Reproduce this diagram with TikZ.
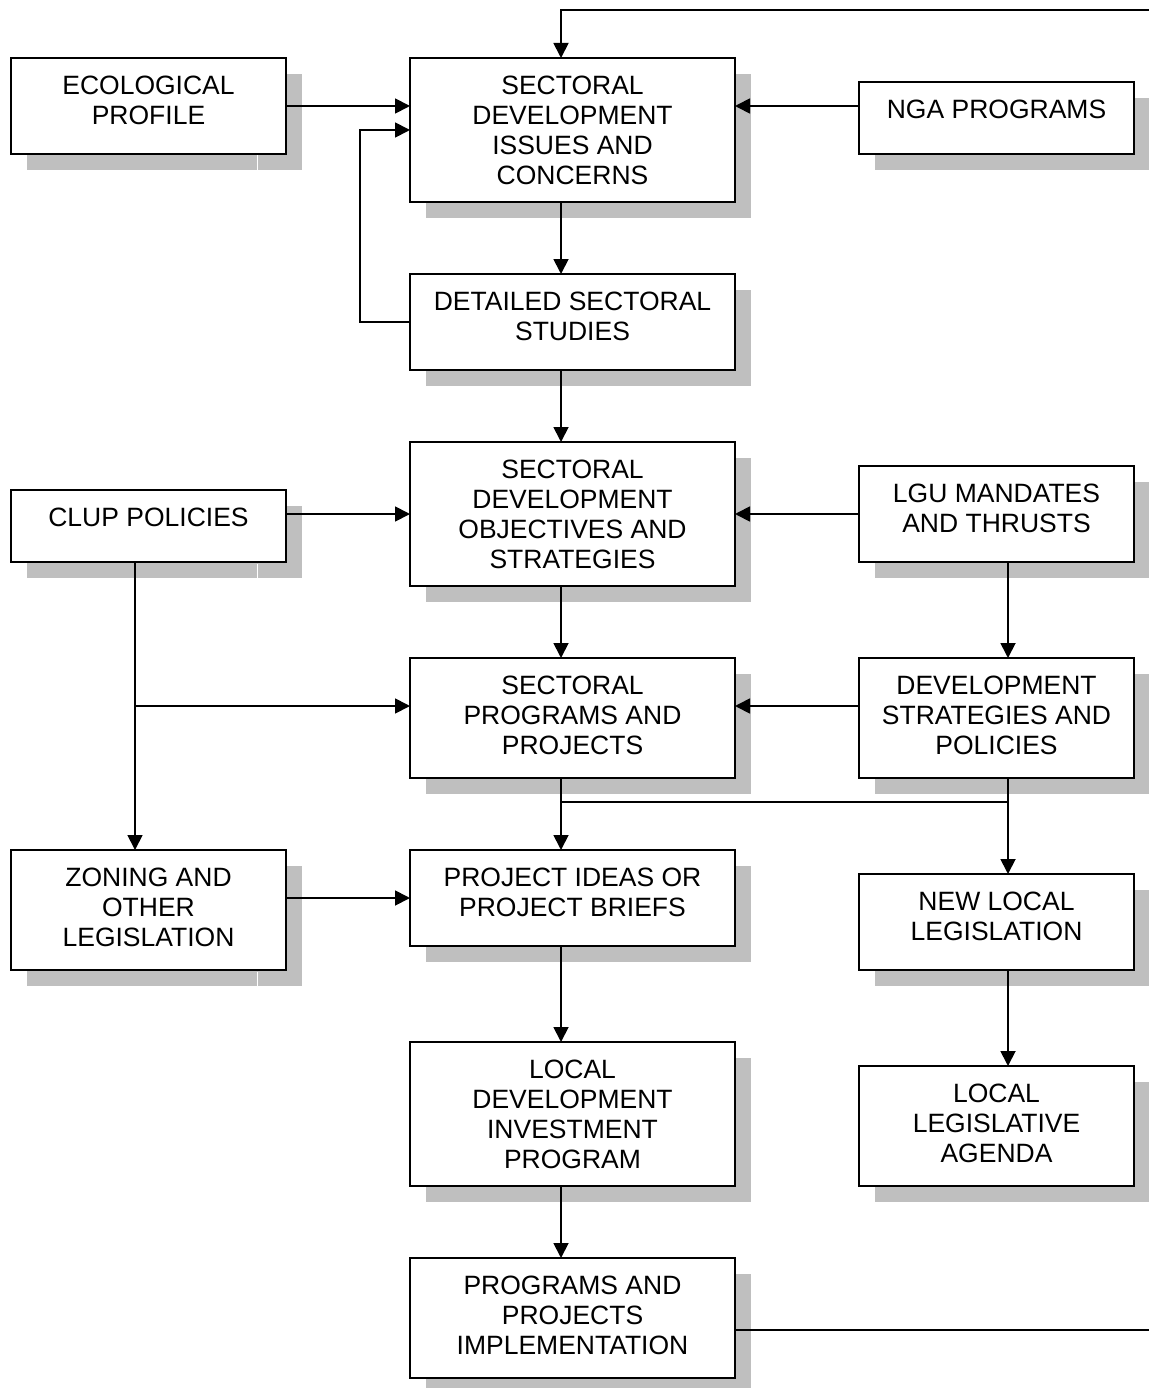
\documentclass[tikz,border=0pt]{standalone}
\usepackage{fontspec}
\setmainfont{Liberation Sans}
\usetikzlibrary{arrows.meta,calc}
\definecolor{shadowgray}{HTML}{BFBFBF}
\tikzset{
  boxstyle/.style={draw=black, line width=2.2pt, fill=white, inner sep=0pt, outer sep=0pt},
  labelstyle/.style={inner sep=0pt, outer sep=0pt, align=center, font=\fontsize{26.5}{30}\selectfont},
  conn/.style={line width=1.8pt, draw=black},
  arr/.style={conn, -{Triangle[length=15pt,width=15pt]}}
}
% \flowbox{name}{x1}{y1}{x2}{y2}{text}
\newcommand\flowbox[6]{%
  \fill[shadowgray] ({#2+16},{#3+16}) rectangle ({#4+16},{#5+16});
  \node[boxstyle, minimum width={(#4-#2)*1pt}, minimum height={(#5-#3)*1pt}]
    (#1) at ({(#2+#4)/2},{(#3+#5)/2}) {};
  \node[labelstyle, anchor=north] (#1-t) at ({(#2+#4)/2},{#3+17.5}) {#6};
}
\begin{document}
\begin{tikzpicture}[x=1pt, y=-1pt]
\useasboundingbox (0,0) rectangle (1148,1388);
% column coordinates
\coordinate (cx) at (561,0);
\coordinate (lx) at (135,0);
\coordinate (rx) at (1008,0);
\coordinate (topy) at (0,10);
\coordinate (redge) at (1150,0);

\flowbox{eco}{11}{58}{286}{154}{ECOLOGICAL\\PROFILE}
\flowbox{issues}{410}{58}{735}{202}{SECTORAL\\DEVELOPMENT\\ISSUES AND\\CONCERNS}
\flowbox{nga}{859}{82}{1134}{154}{NGA PROGRAMS}
\flowbox{studies}{410}{274}{735}{370}{DETAILED SECTORAL\\STUDIES}
\flowbox{objectives}{410}{442}{735}{586}{SECTORAL\\DEVELOPMENT\\OBJECTIVES AND\\STRATEGIES}
\flowbox{clup}{11}{490}{286}{562}{CLUP POLICIES}
\flowbox{lgu}{859}{466}{1134}{562}{LGU MANDATES\\AND THRUSTS}
\flowbox{programs}{410}{658}{735}{778}{SECTORAL\\PROGRAMS AND\\PROJECTS}
\flowbox{devstrat}{859}{658}{1134}{778}{DEVELOPMENT\\STRATEGIES AND\\POLICIES}
\flowbox{zoning}{11}{850}{286}{970}{ZONING AND\\OTHER\\LEGISLATION}
\flowbox{ideas}{410}{850}{735}{946}{PROJECT IDEAS OR\\PROJECT BRIEFS}
\flowbox{newleg}{859}{874}{1134}{970}{NEW LOCAL\\LEGISLATION}
\flowbox{ldip}{410}{1042}{735}{1186}{LOCAL\\DEVELOPMENT\\INVESTMENT\\PROGRAM}
\flowbox{agenda}{859}{1066}{1134}{1186}{LOCAL\\LEGISLATIVE\\AGENDA}
\flowbox{impl}{410}{1258}{735}{1378}{PROGRAMS AND\\PROJECTS\\IMPLEMENTATION}

% small gaps in left-column shadows
\foreach \yy/\hh in {154/170, 562/578, 970/986}
  \draw[white, line width=1pt] (257,{\yy+1.5}) -- (257,\hh);

% connectors
\draw[arr] (eco.east) -- (issues.west |- eco.east);
\draw[arr] (nga.west |- eco.east) -- (issues.east |- eco.east);
\draw[arr] (issues.south -| cx) -- (studies.north -| cx);
\draw[arr] (studies.west) -- ++(-50,0) |- (issues.west);
\draw[arr] (studies.south -| cx) -- (objectives.north -| cx);
\draw[arr] (clup.east |- objectives.west) -- (objectives.west);
\draw[arr] (lgu.west) -- (objectives.east);
\draw[arr] (clup.south -| lx) -- (zoning.north -| lx);
\coordinate (branch) at (135,706);
\draw[arr] (branch) -- (programs.west |- branch);
\draw[arr] (objectives.south -| cx) -- (programs.north -| cx);
\draw[arr] (lgu.south -| rx) -- (devstrat.north -| rx);
\draw[arr] (devstrat.west |- branch) -- (programs.east |- branch);
\draw[arr] (programs.south -| cx) -- (ideas.north -| cx);
\coordinate (split) at (561,802);
\draw[conn] (split) -- (split -| rx);
\draw[arr] (devstrat.south -| rx) -- (newleg.north -| rx);
\draw[arr] (zoning.east |- ideas.west) -- (ideas.west);
\draw[arr] (ideas.south -| cx) -- (ldip.north -| cx);
\draw[arr] (newleg.south -| rx) -- (agenda.north -| rx);
\draw[arr] (ldip.south -| cx) -- (impl.north -| cx);
\coordinate (loopstart) at (735,1330);
\draw[arr] (loopstart) -- (loopstart -| redge) -- (redge |- topy) -- (cx |- topy) -- (issues.north -| cx);
\end{tikzpicture}
\end{document}
